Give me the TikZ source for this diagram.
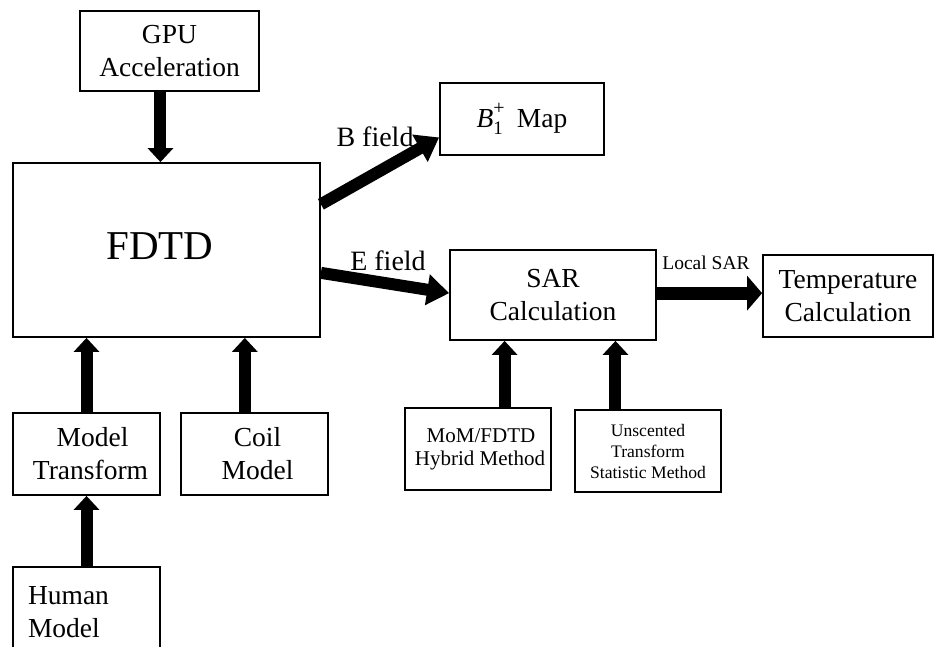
\documentclass[tikz,border=0pt]{standalone}
\usepackage{fontspec}
\setmainfont{Liberation Serif}
\usetikzlibrary{arrows.meta,calc}
\begin{document}
\begin{tikzpicture}[x=1pt,y=-1pt,
  box/.style={draw,line width=1.8pt,inner sep=0pt,align=center},
  big/.style={font=\fontsize{27.5}{33}\selectfont},
  flow/.style={line width=12pt,-{Triangle[width=25pt,length=14pt]}},
  wide/.style={line width=12pt,-{Triangle[width=30pt,length=22pt]}},
  lbl/.style={inner sep=0pt,font=\fontsize{28}{30}\selectfont}]
\useasboundingbox (0,0) rectangle (934,646);
\clip (0,0) rectangle (934,646);

% blocks
\node[box,big,minimum width=179pt,minimum height=80pt] (gpu) at (169.5,51) {GPU\\Acceleration};
\node[box,minimum width=307pt,minimum height=174pt] (fdtd) at (166.5,250) {};
\node[inner sep=0pt,font=\fontsize{41}{44}\selectfont] (fdtdtxt) at (160,246) {FDTD};
\node[box,big,minimum width=164pt,minimum height=72pt] (bmap) at (522,119)
  {\textit{B}\rlap{\raisebox{13pt}{\fontsize{20}{20}\selectfont +}}\raisebox{-7pt}{\fontsize{19}{19}\selectfont 1}\hspace{14pt}Map};
\node[box,big,minimum width=206pt,minimum height=90pt] (sar) at (553,295) {SAR\\Calculation};
\node[box,big,minimum width=170pt,minimum height=82pt] (temp) at (848,296) {Temperature\\Calculation};
\node[box,big,minimum width=147pt,minimum height=82pt] (mt) at (86.5,454) {\hspace*{12pt}Model\\\hspace*{8pt}Transform};
\node[box,big,minimum width=147pt,minimum height=82pt] (coil) at (254.5,454) {\hspace*{6pt}Coil\\\hspace*{6pt}Model};
\node[box,big,minimum width=147pt,minimum height=90pt,align=left,text width=117pt] (human) at (86.5,612) {Human\\Model};
\node[box,minimum width=146pt,minimum height=82pt,font=\fontsize{21}{23}\selectfont] (mom) at (478,449) {\hspace*{6pt}MoM/FDTD\\\hspace*{4pt}Hybrid Method};
\node[box,minimum width=146pt,minimum height=82pt,font=\fontsize{17.6}{21}\selectfont] (ut) at (648,451) {Unscented\\Transform\\Statistic Method};

% arrow end points on the block borders
\coordinate (gpuout) at ($(gpu.south west)!0.45!(gpu.south east)$);
\coordinate (coilout) at ($(coil.north west)!0.435!(coil.north east)$);
\coordinate (momout) at ($(mom.north west)!0.68!(mom.north east)$);
\coordinate (utout) at ($(ut.north west)!0.28!(ut.north east)$);
\coordinate (sarout) at ($(sar.north east)!0.48!(sar.south east)$);
\coordinate (bout) at ($(fdtd.north east)!0.24!(fdtd.south east)$);
\coordinate (eout) at ($(fdtd.north east)!0.63!(fdtd.south east)$);
\coordinate (bin) at ($(bmap.north west)!0.75!(bmap.south west)$);
\coordinate (ein) at ($(sar.north west)!0.48!(sar.south west)$);

% data flow
\draw[flow] (gpuout) -- (gpuout |- fdtd.north);
\draw[flow] (mt.north) -- (mt.north |- fdtd.south);
\draw[flow] (coilout) -- (coilout |- fdtd.south);
\draw[flow] (human.north) -- (mt.south);
\draw[flow] (momout) -- (momout |- sar.south);
\draw[flow] (utout) -- (utout |- sar.south);
\draw[line width=13pt,-{Triangle[width=34pt,length=15pt]}] (sarout) -- (sarout -| temp.west);
\draw[wide] (bout) -- (bin);
\draw[wide] (eout) -- (ein);

% labels
\node[lbl] (blab) at (375,137) {B field};
\node[lbl] (elab) at (388,261) {E field};
\node[inner sep=0pt,font=\fontsize{19.5}{21}\selectfont] (llab) at (706,263) {Local SAR};
\end{tikzpicture}
\end{document}
